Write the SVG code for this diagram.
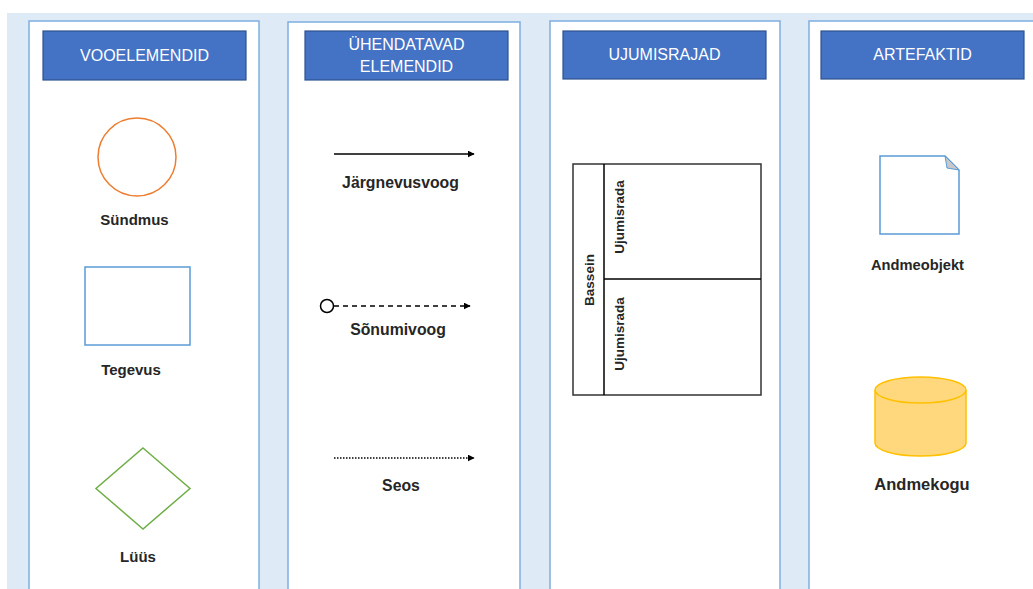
<svg xmlns="http://www.w3.org/2000/svg" width="1033" height="589" viewBox="0 0 1033 589">
  <style>
    .panel { fill: #ffffff; stroke: #7FAEE0; stroke-width: 1.5; }
    .head { fill: #4472C4; stroke: #2F528F; stroke-width: 1.2; }
    .htxt { font-family: "Liberation Sans", Arial, sans-serif; font-size: 16px; fill: #ffffff; text-anchor: middle; }
    .lbl { font-family: "Liberation Sans", Arial, sans-serif; font-size: 15px; font-weight: bold; fill: #262626; text-anchor: middle; }
    .lbl-m { font-size: 15.8px; }
    .lane { font-size: 13.5px; }
    .edge { stroke: #000000; stroke-width: 1.5; fill: none; }
    .pool { fill: #ffffff; stroke: #333333; stroke-width: 1.5; }
  </style>
  <defs>
    <marker id="arrow" viewBox="0 0 10 10" refX="9" refY="5" markerWidth="7" markerHeight="7" markerUnits="userSpaceOnUse" orient="auto">
      <path d="M0,0 L10,5 L0,10 z" fill="#000000"/>
    </marker>
  </defs>

  <!-- background -->
  <rect x="0" y="0" width="1033" height="589" fill="#ffffff"/>
  <rect x="7" y="13" width="1026" height="576" fill="#DEEAF6"/>

  <!-- columns -->
  <g id="col-flow">
    <rect class="panel" x="29" y="21" width="230" height="580"/>
    <rect class="head" x="43" y="31" width="203" height="49"/>
    <text class="htxt" x="144.5" y="61">VOOELEMENDID</text>
  </g>
  <g id="col-connect">
    <rect class="panel" x="288" y="22" width="232" height="580"/>
    <rect class="head" x="305" y="31" width="203" height="49"/>
    <text class="htxt" x="406.5" y="50">ÜHENDATAVAD</text>
    <text class="htxt" x="406.5" y="72">ELEMENDID</text>
  </g>
  <g id="col-lanes">
    <rect class="panel" x="550" y="21" width="230" height="580"/>
    <rect class="head" x="563" y="31" width="203" height="48"/>
    <text class="htxt" x="664.5" y="60">UJUMISRAJAD</text>
  </g>
  <g id="col-artifacts">
    <rect class="panel" x="809" y="21" width="240" height="580"/>
    <rect class="head" x="821" y="31" width="203" height="48"/>
    <text class="htxt" x="922.5" y="60">ARTEFAKTID</text>
  </g>

  <!-- flow objects -->
  <g id="event">
    <circle cx="137" cy="157" r="39" fill="#ffffff" stroke="#ED7D31" stroke-width="1.5"/>
    <text class="lbl" x="134.5" y="225">Sündmus</text>
  </g>
  <g id="activity">
    <rect x="85" y="267" width="105" height="78" fill="#ffffff" stroke="#5B9BD5" stroke-width="1.5"/>
    <text class="lbl" x="131" y="375">Tegevus</text>
  </g>
  <g id="gateway">
    <polygon points="143,448 190,488.5 143,529 96,488.5" fill="#ffffff" stroke="#70AD47" stroke-width="1.5"/>
    <text class="lbl" x="138" y="562">Lüüs</text>
  </g>

  <!-- connecting objects -->
  <g id="connectors">
    <line class="edge" x1="334" y1="154" x2="474" y2="154" marker-end="url(#arrow)"/>
    <circle cx="327" cy="306" r="6.5" fill="#ffffff" stroke="#000000" stroke-width="1.5"/>
    <line class="edge" x1="334" y1="306" x2="470" y2="306" stroke-dasharray="5,4" marker-end="url(#arrow)"/>
    <line class="edge" x1="334" y1="458" x2="474" y2="458" stroke-dasharray="1.5,1.5" marker-end="url(#arrow)"/>
  </g>
  <g id="label-sequence">
    <text class="lbl lbl-m" x="400.5" y="187.5">Järgnevusvoog</text>
  </g>
  <g id="label-message">
    <text class="lbl lbl-m" x="398" y="334.5">Sõnumivoog</text>
  </g>
  <g id="label-association">
    <text class="lbl lbl-m" x="401" y="491">Seos</text>
  </g>

  <!-- pool with two lanes -->
  <g id="pool">
    <rect class="pool" x="573" y="164" width="188" height="231"/>
    <line class="edge" x1="604" y1="164" x2="604" y2="395" stroke="#333333"/>
    <line class="edge" x1="604" y1="279" x2="761" y2="279" stroke="#333333"/>
    <text class="lbl lane" transform="translate(594,280) rotate(-90)" x="0" y="0">Bassein</text>
    <text class="lbl lane" transform="translate(624,217) rotate(-90)" x="0" y="0">Ujumisrada</text>
    <text class="lbl lane" transform="translate(624,334) rotate(-90)" x="0" y="0">Ujumisrada</text>
  </g>

  <!-- artifacts -->
  <g id="data-object">
    <path d="M880,156 L945,156 L959,170 L959,234 L880,234 Z" fill="#ffffff" stroke="#5B9BD5" stroke-width="1.5"/>
    <path d="M945,156 L947,168 L959,170 Z" fill="#C8C8C8" stroke="#5B9BD5" stroke-width="1"/>
    <text class="lbl" x="917.5" y="270" style="font-size:14.7px">Andmeobjekt</text>
  </g>
  <g id="data-store">
    <path d="M875,390 L875,443 A45.5,13 0 0 0 966,443 L966,390" fill="#FFD87E" stroke="#FFC000" stroke-width="1.5"/>
    <ellipse cx="920.5" cy="390" rx="45.5" ry="13" fill="#FFD87E" stroke="#FFC000" stroke-width="1.5"/>
    <text class="lbl" x="922" y="489.5" style="font-size:16.5px">Andmekogu</text>
  </g>
</svg>
